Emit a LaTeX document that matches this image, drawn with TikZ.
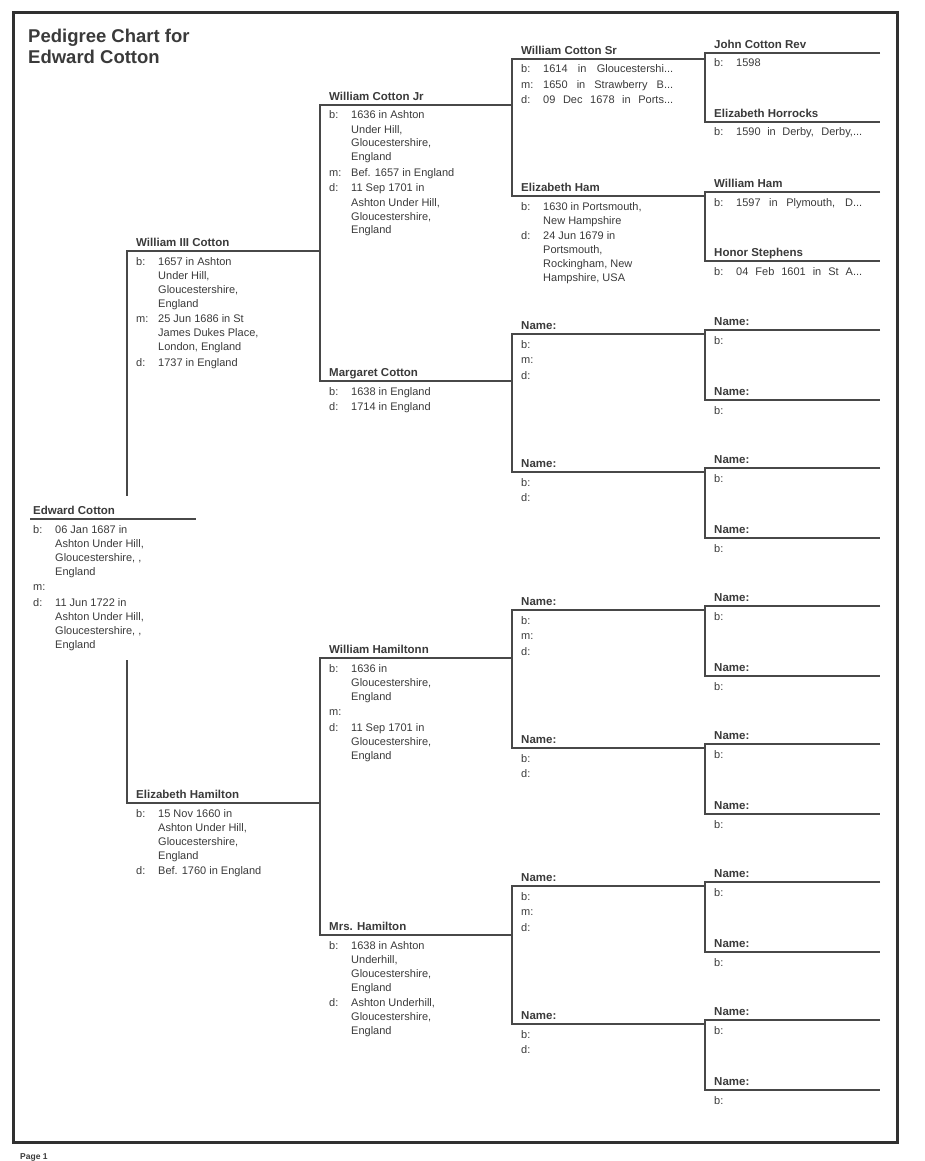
\documentclass[tikz,border=0pt]{standalone}
\usepackage{fontspec}
\setmainfont{Liberation Sans}
\usetikzlibrary{positioning}
\definecolor{chartink}{RGB}{58,58,58}
\definecolor{chartline}{RGB}{72,72,72}
\definecolor{chartframe}{RGB}{48,48,48}
\newcommand{\facts}[1]{\begin{tabular}{@{}p{22pt}@{}l@{}}#1\end{tabular}}
\tikzset{
  pname/.style={font=\fontsize{11.5}{14}\selectfont\bfseries,text=chartink,inner sep=0pt,text depth=0pt},
  pfacts/.style={font=\fontsize{11}{14}\selectfont,text=chartink,inner sep=0pt},
  link/.style={draw=chartline,line width=1.2pt}
}

\begin{document}
\begin{tikzpicture}[x=1pt,y=-1pt]
  \useasboundingbox (0,0) rectangle (924,1161);
  \draw[chartframe,line width=3pt] (13,13) rectangle (897,1142);

  \node[anchor=north west,inner sep=0pt,align=left,text=chartink,
        font=\fontsize{18.5}{21}\selectfont\bfseries] (title) at (28,29)
        {Pedigree Chart for\\Edward Cotton};
  \node[anchor=west,inner sep=0pt,text=chartink,font=\fontsize{8.5}{10}\selectfont\bfseries]
        (page) at (20,1157) {Page 1};

  \coordinate (ec) at (30,519);
  \coordinate (ecend) at (196,519);
  \coordinate (ectop) at (127,496);
  \coordinate (ecbot) at (127,660);
  \coordinate (wiii) at (127,251);
  \coordinate (eh) at (127,803);
  \coordinate (wjr) at (320,105);
  \coordinate (mc) at (320,381);
  \coordinate (whn) at (320,658);
  \coordinate (mrsh) at (320,935);
  \coordinate (wsr) at (512,59);
  \coordinate (eham) at (512,196);
  \coordinate (mcf) at (512,334);
  \coordinate (mcm) at (512,472);
  \coordinate (whf) at (512,610);
  \coordinate (whm) at (512,748);
  \coordinate (mhf) at (512,886);
  \coordinate (mhm) at (512,1024);
  \coordinate (jcr) at (705,53);
  \coordinate (ehr) at (705,122);
  \coordinate (wham) at (705,192);
  \coordinate (hst) at (705,261);
  \coordinate (mcff) at (705,330);
  \coordinate (mcfm) at (705,400);
  \coordinate (mcmf) at (705,468);
  \coordinate (mcmm) at (705,538);
  \coordinate (whff) at (705,606);
  \coordinate (whfm) at (705,676);
  \coordinate (whmf) at (705,744);
  \coordinate (whmm) at (705,814);
  \coordinate (mhff) at (705,882);
  \coordinate (mhfm) at (705,952);
  \coordinate (mhmf) at (705,1020);
  \coordinate (mhmm) at (705,1090);
  \coordinate (edge) at (880,0);

  % brackets, one generation after the other
  \draw[link] (ec) -- (ecend);
  \draw[link] (wiii -| wjr) -- (wiii) -- (ectop);
  \draw[link] (ecbot) -- (eh) -- (eh -| wjr);
  \draw[link] (wjr -| wsr) -- (wjr) -- (mc) -- (mc -| wsr);
  \draw[link] (whn -| wsr) -- (whn) -- (mrsh) -- (mrsh -| wsr);
  \draw[link] (wsr -| jcr) -- (wsr) -- (eham) -- (eham -| jcr);
  \draw[link] (mcf -| jcr) -- (mcf) -- (mcm) -- (mcm -| jcr);
  \draw[link] (whf -| jcr) -- (whf) -- (whm) -- (whm -| jcr);
  \draw[link] (mhf -| jcr) -- (mhf) -- (mhm) -- (mhm -| jcr);
  \draw[link] (jcr -| edge) -- (jcr) -- (ehr) -- (ehr -| edge);
  \draw[link] (wham -| edge) -- (wham) -- (hst) -- (hst -| edge);
  \draw[link] (mcff -| edge) -- (mcff) -- (mcfm) -- (mcfm -| edge);
  \draw[link] (mcmf -| edge) -- (mcmf) -- (mcmm) -- (mcmm -| edge);
  \draw[link] (whff -| edge) -- (whff) -- (whfm) -- (whfm -| edge);
  \draw[link] (whmf -| edge) -- (whmf) -- (whmm) -- (whmm -| edge);
  \draw[link] (mhff -| edge) -- (mhff) -- (mhfm) -- (mhfm -| edge);
  \draw[link] (mhmf -| edge) -- (mhmf) -- (mhmm) -- (mhmm -| edge);

  % generation 1
  \node[pname,above right=4pt and 3pt of ec] (ecname) {Edward Cotton};
  \node[pfacts,below right=4pt and 3pt of ec] (ecinfo) {\facts{b: & 06 Jan 1687 in\\ & Ashton Under Hill,\\ & Gloucestershire, ,\\ & England\\[1.5pt]
    m: & \\[1.5pt] d: & 11 Jun 1722 in\\ & Ashton Under Hill,\\ & Gloucestershire, ,\\ & England}};

  % generation 2
  \node[pname,above right=4pt and 9pt of wiii] (wiiiname) {William III Cotton};
  \node[pfacts,below right=4pt and 9pt of wiii] (wiiiinfo) {\facts{b: & 1657 in Ashton\\ & Under Hill,\\ & Gloucestershire,\\ & England\\[1.5pt]
    m: & 25 Jun 1686 in St\\ & James Dukes Place,\\ & London, England\\[1.5pt] d: & 1737 in England}};
  \node[pname,above right=4pt and 9pt of eh] (ehname) {Elizabeth Hamilton};
  \node[pfacts,below right=4pt and 9pt of eh] (ehinfo) {\facts{b: & 15 Nov 1660 in\\ & Ashton Under Hill,\\ & Gloucestershire,\\ & England\\[1.5pt]
    d: & Bef. 1760 in England}};

  % generation 3
  \node[pname,above right=4pt and 9pt of wjr] (wjrname) {William Cotton Jr};
  \node[pfacts,below right=4pt and 9pt of wjr] (wjrinfo) {\facts{b: & 1636 in Ashton\\ & Under Hill,\\ & Gloucestershire,\\ & England\\[1.5pt]
    m: & Bef. 1657 in England\\[1.5pt] d: & 11 Sep 1701 in\\ & Ashton Under Hill,\\ & Gloucestershire,\\ & England}};
  \node[pname,above right=4pt and 9pt of mc] (mcname) {Margaret Cotton};
  \node[pfacts,below right=4pt and 9pt of mc] (mcinfo) {\facts{b: & 1638 in England\\[1.5pt] d: & 1714 in England}};
  \node[pname,above right=4pt and 9pt of whn] (whnname) {William Hamiltonn};
  \node[pfacts,below right=4pt and 9pt of whn] (whninfo) {\facts{b: & 1636 in\\ & Gloucestershire,\\ & England\\[1.5pt]
    m: & \\[1.5pt] d: & 11 Sep 1701 in\\ & Gloucestershire,\\ & England}};
  \node[pname,above right=4pt and 9pt of mrsh] (mrshname) {Mrs. Hamilton};
  \node[pfacts,below right=4pt and 9pt of mrsh] (mrshinfo) {\facts{b: & 1638 in Ashton\\ & Underhill,\\ & Gloucestershire,\\ & England\\[1.5pt]
    d: & Ashton Underhill,\\ & Gloucestershire,\\ & England}};

  % generation 4
  \node[pname,above right=4pt and 9pt of wsr] (wsrname) {William Cotton Sr};
  \node[pfacts,below right=4pt and 9pt of wsr] (wsrinfo) {\facts{b: & \makebox[130pt][s]{1614 in Gloucestershi...}\\[1.5pt]
    m: & \makebox[130pt][s]{1650 in Strawberry B...}\\[1.5pt] d: & \makebox[130pt][s]{09 Dec 1678 in Ports...}}};
  \node[pname,above right=4pt and 9pt of eham] (ehamname) {Elizabeth Ham};
  \node[pfacts,below right=4pt and 9pt of eham] (ehaminfo) {\facts{b: & 1630 in Portsmouth,\\ & New Hampshire\\[1.5pt]
    d: & 24 Jun 1679 in\\ & Portsmouth,\\ & Rockingham, New\\ & Hampshire, USA}};
  \node[pname,above right=4pt and 9pt of mcf] (mcfname) {Name:};
  \node[pfacts,below right=4pt and 9pt of mcf] (mcfinfo) {\facts{b: & \\[1.5pt] m: & \\[1.5pt] d: & }};
  \node[pname,above right=4pt and 9pt of mcm] (mcmname) {Name:};
  \node[pfacts,below right=4pt and 9pt of mcm] (mcminfo) {\facts{b: & \\[1.5pt] d: & }};
  \node[pname,above right=4pt and 9pt of whf] (whfname) {Name:};
  \node[pfacts,below right=4pt and 9pt of whf] (whfinfo) {\facts{b: & \\[1.5pt] m: & \\[1.5pt] d: & }};
  \node[pname,above right=4pt and 9pt of whm] (whmname) {Name:};
  \node[pfacts,below right=4pt and 9pt of whm] (whminfo) {\facts{b: & \\[1.5pt] d: & }};
  \node[pname,above right=4pt and 9pt of mhf] (mhfname) {Name:};
  \node[pfacts,below right=4pt and 9pt of mhf] (mhfinfo) {\facts{b: & \\[1.5pt] m: & \\[1.5pt] d: & }};
  \node[pname,above right=4pt and 9pt of mhm] (mhmname) {Name:};
  \node[pfacts,below right=4pt and 9pt of mhm] (mhminfo) {\facts{b: & \\[1.5pt] d: & }};

  % generation 5
  \node[pname,above right=4pt and 9pt of jcr] (jcrname) {John Cotton Rev};
  \node[pfacts,below right=4pt and 9pt of jcr] (jcrinfo) {\facts{b: & 1598}};
  \node[pname,above right=4pt and 9pt of ehr] (ehrname) {Elizabeth Horrocks};
  \node[pfacts,below right=4pt and 9pt of ehr] (ehrinfo) {\facts{b: & \makebox[126pt][s]{1590 in Derby, Derby,...}}};
  \node[pname,above right=4pt and 9pt of wham] (whamname) {William Ham};
  \node[pfacts,below right=4pt and 9pt of wham] (whaminfo) {\facts{b: & \makebox[126pt][s]{1597 in Plymouth, D...}}};
  \node[pname,above right=4pt and 9pt of hst] (hstname) {Honor Stephens};
  \node[pfacts,below right=4pt and 9pt of hst] (hstinfo) {\facts{b: & \makebox[126pt][s]{04 Feb 1601 in St A...}}};
  \node[pname,above right=4pt and 9pt of mcff] (mcffname) {Name:};
  \node[pfacts,below right=4pt and 9pt of mcff] (mcffinfo) {\facts{b: & }};
  \node[pname,above right=4pt and 9pt of mcfm] (mcfmname) {Name:};
  \node[pfacts,below right=4pt and 9pt of mcfm] (mcfminfo) {\facts{b: & }};
  \node[pname,above right=4pt and 9pt of mcmf] (mcmfname) {Name:};
  \node[pfacts,below right=4pt and 9pt of mcmf] (mcmfinfo) {\facts{b: & }};
  \node[pname,above right=4pt and 9pt of mcmm] (mcmmname) {Name:};
  \node[pfacts,below right=4pt and 9pt of mcmm] (mcmminfo) {\facts{b: & }};
  \node[pname,above right=4pt and 9pt of whff] (whffname) {Name:};
  \node[pfacts,below right=4pt and 9pt of whff] (whffinfo) {\facts{b: & }};
  \node[pname,above right=4pt and 9pt of whfm] (whfmname) {Name:};
  \node[pfacts,below right=4pt and 9pt of whfm] (whfminfo) {\facts{b: & }};
  \node[pname,above right=4pt and 9pt of whmf] (whmfname) {Name:};
  \node[pfacts,below right=4pt and 9pt of whmf] (whmfinfo) {\facts{b: & }};
  \node[pname,above right=4pt and 9pt of whmm] (whmmname) {Name:};
  \node[pfacts,below right=4pt and 9pt of whmm] (whmminfo) {\facts{b: & }};
  \node[pname,above right=4pt and 9pt of mhff] (mhffname) {Name:};
  \node[pfacts,below right=4pt and 9pt of mhff] (mhffinfo) {\facts{b: & }};
  \node[pname,above right=4pt and 9pt of mhfm] (mhfmname) {Name:};
  \node[pfacts,below right=4pt and 9pt of mhfm] (mhfminfo) {\facts{b: & }};
  \node[pname,above right=4pt and 9pt of mhmf] (mhmfname) {Name:};
  \node[pfacts,below right=4pt and 9pt of mhmf] (mhmfinfo) {\facts{b: & }};
  \node[pname,above right=4pt and 9pt of mhmm] (mhmmname) {Name:};
  \node[pfacts,below right=4pt and 9pt of mhmm] (mhmminfo) {\facts{b: & }};
\end{tikzpicture}
\end{document}
